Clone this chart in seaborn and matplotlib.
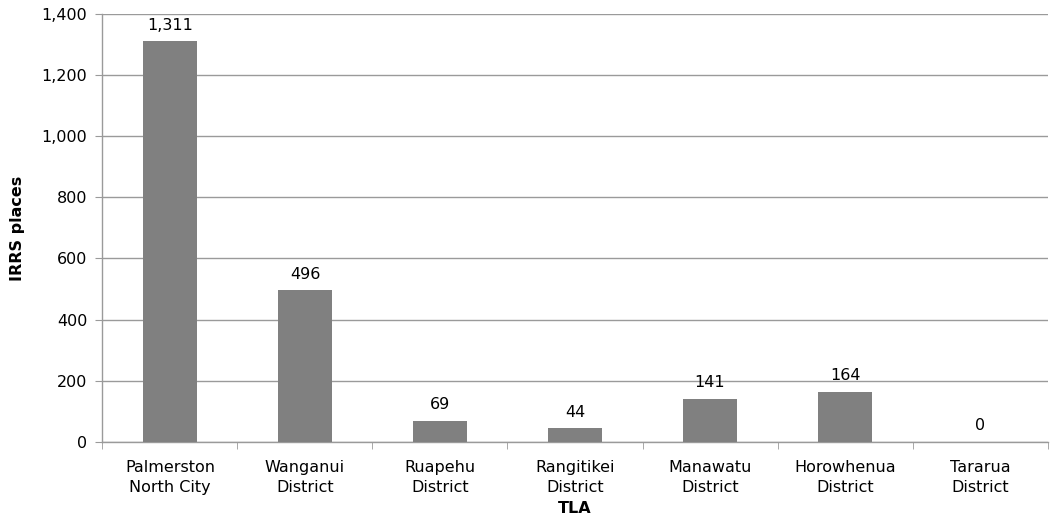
import matplotlib
matplotlib.use("Agg")
import matplotlib.pyplot as plt
import matplotlib.ticker as mticker
import seaborn as sns
import pandas as pd

categories = ["Palmerston\nNorth City", "Wanganui\nDistrict", "Ruapehu\nDistrict",
              "Rangitikei\nDistrict", "Manawatu\nDistrict", "Horowhenua\nDistrict",
              "Tararua\nDistrict"]
places = [1311, 496, 69, 44, 141, 164, 0]

df = pd.DataFrame({"TLA": categories, "IRRS places": places})

sns.set_style("white")
plt.rcParams["font.family"] = ["DejaVu Sans"]
plt.rcParams["text.color"] = "black"
plt.rcParams["axes.labelcolor"] = "black"
plt.rcParams["xtick.color"] = "black"
plt.rcParams["ytick.color"] = "black"

fs = 11.5

fig, ax = plt.subplots(figsize=(10.56, 5.24), dpi=100)
fig.subplots_adjust(left=0.097, right=0.992, top=0.973, bottom=0.157)

sns.barplot(data=df, x="TLA", y="IRRS places", color="#808080", width=0.4,
            saturation=1, linewidth=0, edgecolor="none", ax=ax, zorder=3)

for i, v in enumerate(places):
    ax.annotate(f"{v:,}", (i, v), xytext=(0, 6), textcoords="offset points",
                ha="center", va="bottom", fontsize=fs)

ax.set_ylim(0, 1400)
ax.set_xlim(-0.5, len(categories) - 0.5)
ax.yaxis.set_major_locator(mticker.MultipleLocator(200))
ax.yaxis.set_major_formatter(mticker.FuncFormatter(lambda v, p: f"{int(v):,}"))
ax.grid(axis="y", color="#9a9a9a", linewidth=1, zorder=0)

for s in ["top", "right"]:
    ax.spines[s].set_visible(False)
for s in ["left", "bottom"]:
    ax.spines[s].set_color("#9a9a9a")
    ax.spines[s].set_linewidth(1)

ax.tick_params(axis="y", length=5, color="#9a9a9a", labelsize=fs, left=True, pad=6)
ax.set_xticks([i for i in range(len(categories))])
ax.set_xticklabels(categories, fontsize=fs, linespacing=1.45)
ax.tick_params(axis="x", length=0, pad=13)
ax.set_xticks([i - 0.5 for i in range(len(categories) + 1)], minor=True)
ax.tick_params(axis="x", which="minor", length=5, color="#9a9a9a", bottom=True)

ax.set_xlabel("TLA", fontsize=fs, fontweight="bold", labelpad=4)
ax.set_ylabel("IRRS places", fontsize=fs, fontweight="bold", labelpad=12)

fig.savefig("out.png", dpi=100)
